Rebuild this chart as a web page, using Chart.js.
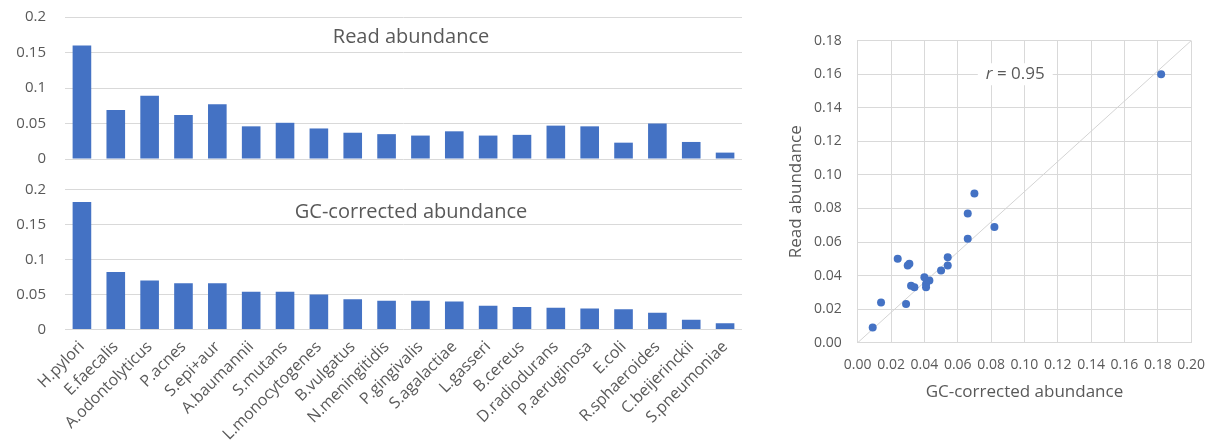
<!DOCTYPE html>
<html>
<head>
<meta charset="utf-8">
<script src="https://cdn.jsdelivr.net/npm/chart.js@4/dist/chart.umd.min.js"></script>
<style>
  html, body { margin: 0; padding: 0; background: #ffffff; }
  body { width: 1219px; height: 445px; position: relative; overflow: hidden; }
  canvas { position: absolute; }
</style>
</head>
<body>
<canvas id="topBar" width="760" height="170" style="left:0px;top:0px"></canvas>
<canvas id="botBar" width="760" height="275" style="left:0px;top:170px"></canvas>
<canvas id="scatter" width="459" height="445" style="left:760px;top:0px"></canvas>
<script>
// ---------------- DATA ----------------
const species = ['H.pylori', 'E.faecalis', 'A.odontolyticus', 'P.acnes', 'S.epi+aur', 'A.baumannii',
  'S.mutans', 'L.monocytogenes', 'B.vulgatus', 'N.meningitidis', 'P.gingivalis', 'S.agalactiae',
  'L.gasseri', 'B.cereus', 'D.radiodurans', 'P.aeruginosa', 'E.coli', 'R.sphaeroides',
  'C.beijerinckii', 'S.pneumoniae'];
const readAbundance = [0.160, 0.069, 0.089, 0.062, 0.077, 0.046, 0.051, 0.043, 0.037, 0.035,
  0.033, 0.039, 0.033, 0.034, 0.047, 0.046, 0.023, 0.050, 0.024, 0.009];
const gcAbundance = [0.182, 0.082, 0.070, 0.066, 0.066, 0.054, 0.054, 0.050, 0.043, 0.041,
  0.041, 0.040, 0.034, 0.032, 0.031, 0.030, 0.029, 0.024, 0.014, 0.009];
const barTickValues = [0, 0.05, 0.1, 0.15, 0.2];
const barTickLabels = ['0', '0.05', '0.1', '0.15', '0.2'];
const scatterXTickValues = [0, 0.02, 0.04, 0.06, 0.08, 0.10, 0.12, 0.14, 0.16, 0.18, 0.20];
const scatterXTickLabels = ['0.00', '0.02', '0.04', '0.06', '0.08', '0.10', '0.12', '0.14', '0.16', '0.18', '0.20'];
const scatterYTickValues = [0, 0.02, 0.04, 0.06, 0.08, 0.10, 0.12, 0.14, 0.16, 0.18];
const scatterYTickLabels = ['0.00', '0.02', '0.04', '0.06', '0.08', '0.10', '0.12', '0.14', '0.16', '0.18'];
const identityLine = [{ x: 0, y: 0 }, { x: 0.2, y: 0.18 }];
const topTitle = 'Read abundance';
const bottomTitle = 'GC-corrected abundance';
const scatterXTitle = 'GC-corrected abundance';
const scatterYTitle = 'Read abundance';
const corrValue = '0.95';

// ---------------- STYLE ----------------
const FONT = "'Open Sans', 'Noto Sans', sans-serif";
const TEXT = '#595959';
const GRID = '#d9d9d9';
const BAR = '#4472C4';
Chart.defaults.font.family = FONT;
Chart.defaults.color = TEXT;
Chart.defaults.animation = false;

function fixedTicks(values) {
  return function (scale) {
    scale.ticks = values.map(v => ({ value: v }));
  };
}
function labelFrom(values, labels) {
  return function (value) {
    const i = values.findIndex(v => Math.abs(v - value) < 1e-9);
    return i >= 0 ? labels[i] : '';
  };
}

const innerTitle = {
  id: 'innerTitle',
  afterDraw(chart, args, opts) {
    const ctx = chart.ctx;
    ctx.save();
    ctx.font = '20px ' + FONT;
    ctx.fillStyle = TEXT;
    ctx.textAlign = 'center';
    ctx.textBaseline = 'alphabetic';
    ctx.fillText(opts.text, opts.x, opts.y);
    ctx.restore();
  }
};

function barConfig(values, title, showX, pad, xHeight, titleY) {
  return {
    type: 'bar',
    data: {
      labels: species,
      datasets: [{
        data: values,
        backgroundColor: BAR,
        borderWidth: 0,
        barPercentage: 0.55,
        categoryPercentage: 1.0
      }]
    },
    options: {
      responsive: false,
      devicePixelRatio: 1,
      layout: { padding: pad },
      plugins: {
        legend: { display: false },
        tooltip: { enabled: false },
        innerTitle: { text: title, x: 411, y: titleY }
      },
      scales: {
        x: {
          display: showX,
          grid: { display: false, drawTicks: false },
          border: { display: false },
          ticks: {
            autoSkip: false,
            minRotation: 45,
            maxRotation: 45,
            padding: 8,
            font: { size: 16 },
            color: TEXT
          },
          afterFit(scale) { scale.height = xHeight; }
        },
        y: {
          min: 0,
          max: 0.2,
          afterBuildTicks: fixedTicks(barTickValues),
          grid: { color: GRID, lineWidth: 1, drawTicks: true, tickLength: 19, tickColor: 'rgba(0,0,0,0)' },
          border: { display: false },
          ticks: {
            padding: 0,
            font: { size: 15 },
            color: TEXT,
            callback: labelFrom(barTickValues, barTickLabels)
          },
          afterFit(scale) { scale.width = 65; }
        }
      }
    },
    plugins: [innerTitle]
  };
}

new Chart(document.getElementById('topBar'),
  barConfig(readAbundance, topTitle, false, { left: 0, right: 18, top: 17, bottom: 11 }, 0, 43));
new Chart(document.getElementById('botBar'),
  barConfig(gcAbundance, bottomTitle, true, { left: 0, right: 18, top: 19.3, bottom: 0 }, 115.5, 48));

// ---------------- SCATTER ----------------
const corrLabel = {
  id: 'corrLabel',
  afterDraw(chart) {
    const ctx = chart.ctx;
    const xs = chart.scales.x, ys = chart.scales.y;
    const cx = xs.getPixelForValue(0.0945);
    const cy = ys.getPixelForValue(0.160);
    ctx.save();
    ctx.font = '17px ' + FONT;
    const rest = ' = ' + corrValue;
    const wRest = ctx.measureText(rest).width;
    ctx.font = 'italic 17px ' + FONT;
    const wR = ctx.measureText('r').width;
    const total = wR + wRest;
    ctx.fillStyle = '#ffffff';
    ctx.fillRect(cx - total / 2 - 8, cy - 11, total + 16, 22);
    ctx.fillStyle = TEXT;
    ctx.textBaseline = 'middle';
    ctx.textAlign = 'left';
    ctx.fillText('r', cx - total / 2, cy);
    ctx.font = '17px ' + FONT;
    ctx.fillText(rest, cx - total / 2 + wR, cy);
    ctx.restore();
  }
};

new Chart(document.getElementById('scatter'), {
  type: 'scatter',
  data: {
    datasets: [
      {
        data: gcAbundance.map((g, i) => ({ x: g, y: readAbundance[i] })),
        backgroundColor: BAR,
        borderColor: BAR,
        pointRadius: 4,
        pointBorderWidth: 0,
        order: 0
      },
      {
        type: 'line',
        data: identityLine,
        borderColor: '#d4d4d4',
        borderWidth: 1,
        pointRadius: 0,
        fill: false,
        order: 1
      }
    ]
  },
  options: {
    responsive: false,
    devicePixelRatio: 1,
    layout: { padding: { left: 26, right: 24.7, top: 40.7, bottom: 43 } },
    plugins: { legend: { display: false }, tooltip: { enabled: false } },
    scales: {
      x: {
        type: 'linear',
        min: 0,
        max: 0.2,
        afterBuildTicks: fixedTicks(scatterXTickValues),
        grid: { color: GRID, drawTicks: false },
        border: { display: true, color: GRID },
        ticks: {
          padding: 14,
          font: { size: 14 },
          color: TEXT,
          maxRotation: 0,
          autoSkip: false,
          callback: labelFrom(scatterXTickValues, scatterXTickLabels)
        },
        title: {
          display: true,
          text: scatterXTitle,
          font: { size: 17 },
          color: TEXT,
          padding: { top: 0, bottom: 0 }
        },
        afterFit(scale) { scale.height = 59.3; }
      },
      y: {
        type: 'linear',
        min: 0,
        max: 0.18,
        afterBuildTicks: fixedTicks(scatterYTickValues),
        grid: { color: GRID, drawTicks: false },
        border: { display: true, color: GRID },
        ticks: {
          padding: 16,
          font: { size: 14 },
          color: TEXT,
          callback: labelFrom(scatterYTickValues, scatterYTickLabels)
        },
        title: {
          display: true,
          text: scatterYTitle,
          font: { size: 17 },
          color: TEXT,
          padding: { top: 0, bottom: 0 }
        },
        afterFit(scale) { scale.width = 71.7; }
      }
    }
  },
  plugins: [corrLabel]
});
</script>
</body>
</html>
